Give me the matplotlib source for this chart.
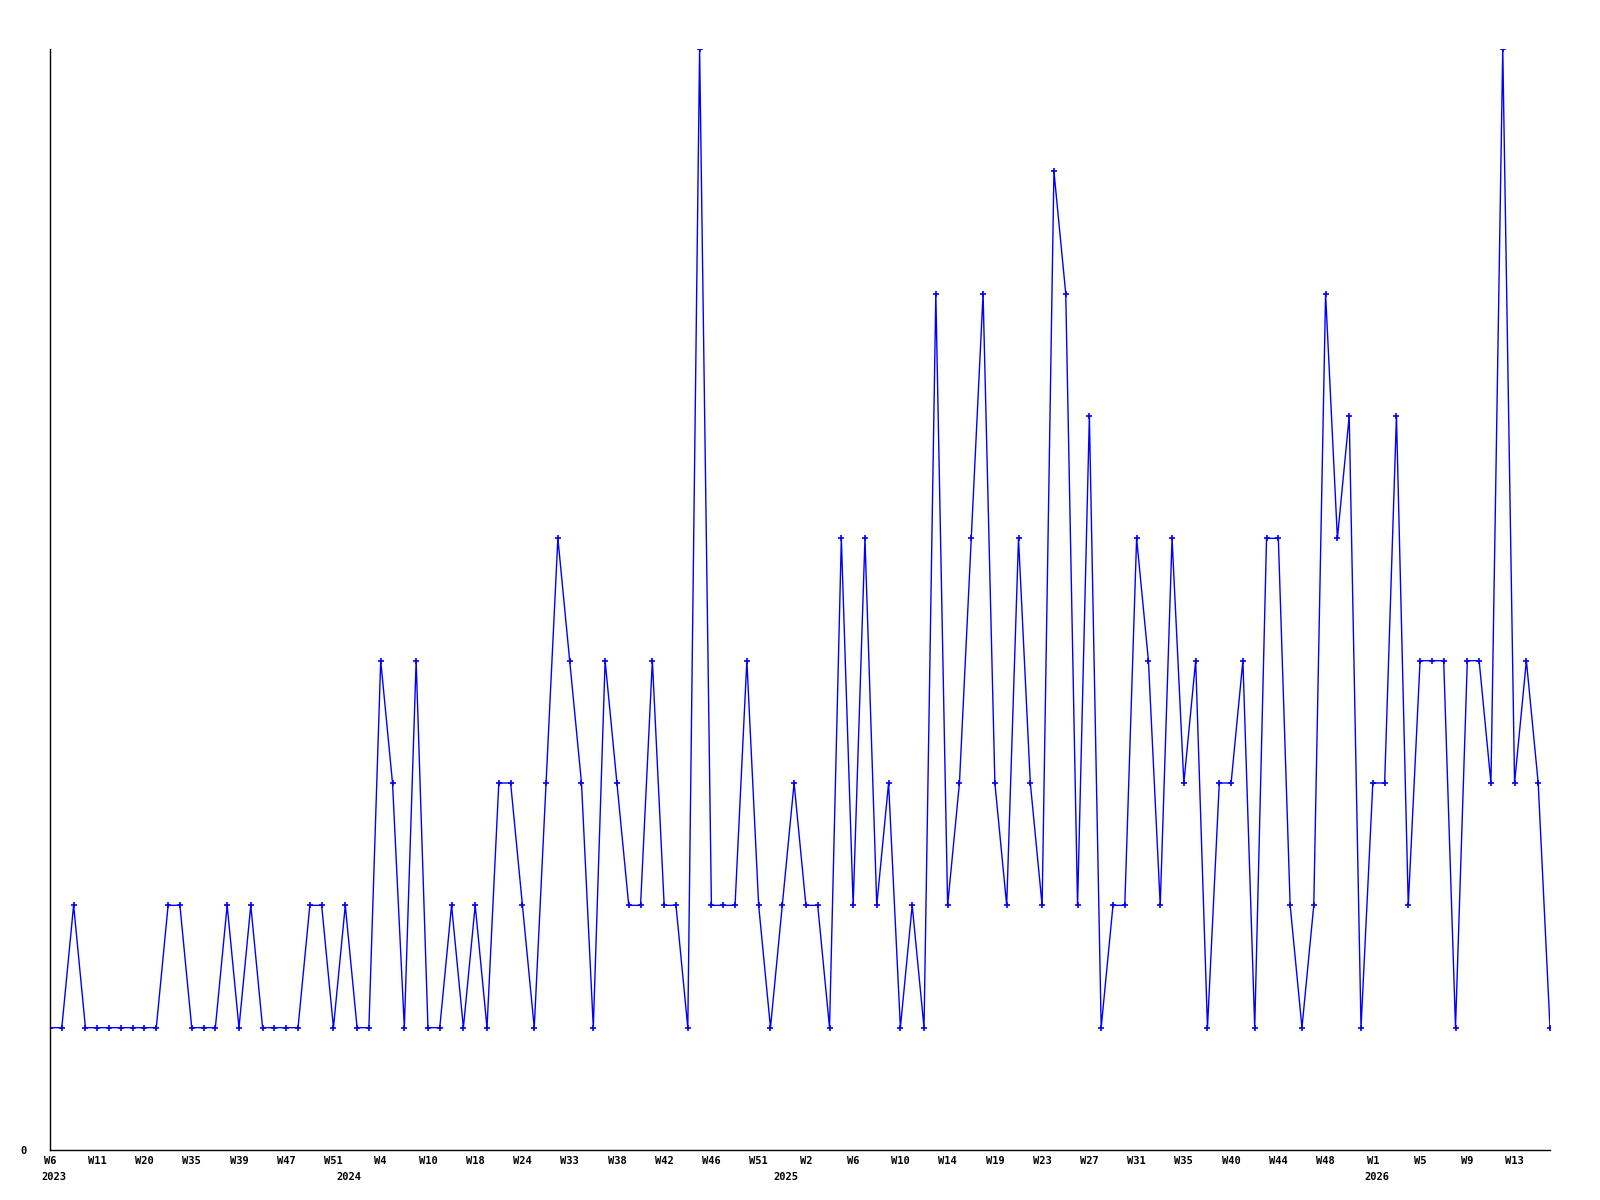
import matplotlib
matplotlib.use("Agg")
import matplotlib.pyplot as plt

values = [1, 1, 2, 1, 1, 1, 1, 1, 1, 1, 2, 2, 1, 1, 1, 2, 1, 2, 1, 1,
          1, 1, 2, 2, 1, 2, 1, 1, 4, 3, 1, 4, 1, 1, 2, 1, 2, 1, 3, 3,
          2, 1, 3, 5, 4, 3, 1, 4, 3, 2, 2, 4, 2, 2, 1, 9, 2, 2, 2, 4,
          2, 1, 2, 3, 2, 2, 1, 5, 2, 5, 2, 3, 1, 2, 1, 7, 2, 3, 5, 7,
          3, 2, 5, 3, 2, 8, 7, 2, 6, 1, 2, 2, 5, 4, 2, 5, 3, 4, 1, 3,
          3, 4, 1, 5, 5, 2, 1, 2, 7, 5, 6, 1, 3, 3, 6, 2, 4, 4, 4, 1,
          4, 4, 3, 9, 3, 4, 3, 1]

tick_labels = ["W6", "W11", "W20", "W35", "W39", "W47", "W51", "W4", "W10", "W18",
               "W24", "W33", "W38", "W42", "W46", "W51", "W2", "W6", "W10", "W14",
               "W19", "W23", "W27", "W31", "W35", "W40", "W44", "W48", "W1", "W5",
               "W9", "W13"]
tick_step = 4

years = ["2023", "2024", "2025", "2026"]
year_pos = [0.3, 25.3, 62.3, 112.3]

font = "DejaVu Sans Mono"

fig = plt.figure(figsize=(16, 12), dpi=100)
ax = fig.add_axes([50 / 1600, 1 - 1150 / 1200, 1500 / 1600, (1150 - 49) / 1200])

x = list(range(len(values)))
ax.plot(x, values, color="#0000ff", lw=1.0, marker="+", ms=4, mew=1.2)

ax.set_xlim(0, len(values) - 1)
ax.set_ylim(0, 9)

for s in ["top", "right"]:
    ax.spines[s].set_visible(False)
for s in ["left", "bottom"]:
    ax.spines[s].set_color("black")
    ax.spines[s].set_linewidth(1.0)

ax.set_yticks([0])
ax.set_yticklabels(["0"], fontfamily=font, fontweight="bold", fontsize=7.5)
ax.set_xticks([i * tick_step for i in range(len(tick_labels))])
ax.set_xticklabels(tick_labels, fontfamily=font, fontweight="bold", fontsize=7.5)
ax.tick_params(axis="both", length=0, pad=4)
ax.tick_params(axis="y", pad=17)

for yr, pos in zip(years, year_pos):
    ax.annotate(yr, xy=(pos, 0), xycoords=("data", "axes fraction"),
                xytext=(0, -16), textcoords="offset points", ha="center", va="top",
                fontfamily=font, fontweight="bold", fontsize=7.5, annotation_clip=False)

fig.savefig("out.png", dpi=100, facecolor="white")
